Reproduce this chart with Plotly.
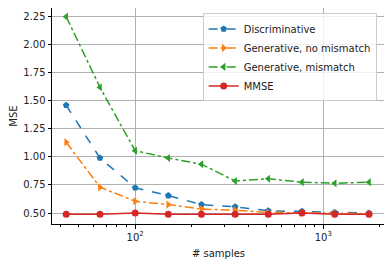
import plotly.graph_objects as go

samples = [43, 65, 100, 150, 225, 340, 510, 770, 1150, 1750]
discriminative = [1.46, 0.99, 0.725, 0.655, 0.575, 0.555, 0.52, 0.515, 0.505, 0.50]
gen_no_mismatch = [1.13, 0.73, 0.605, 0.575, 0.535, 0.525, 0.505, 0.50, 0.50, 0.495]
gen_mismatch = [2.25, 1.62, 1.055, 0.99, 0.935, 0.785, 0.805, 0.775, 0.765, 0.775]
mmse = [0.49, 0.49, 0.50, 0.49, 0.49, 0.49, 0.49, 0.50, 0.49, 0.49]

y_ticks = [0.50, 0.75, 1.00, 1.25, 1.50, 1.75, 2.00, 2.25]
x_ticks = [100, 1000]
x_ticktext = ["10<sup>2</sup>", "10<sup>3</sup>"]
minor_x = [40, 50, 60, 70, 80, 90, 200, 300, 400, 500, 600, 700, 800, 900, 2000]

series = [
    ("Discriminative", discriminative, "#1f77b4", "dash", "pentagon"),
    ("Generative, no mismatch", gen_no_mismatch, "#ff7f0e", "dashdot", "triangle-right"),
    ("Generative, mismatch", gen_mismatch, "#2ca02c", "dashdot", "triangle-left"),
    ("MMSE", mmse, "#d62728", "solid", "circle"),
]

fig = go.Figure()
for name, vals, color, dash, sym in series:
    fig.add_trace(go.Scatter(
        x=samples, y=vals, name=name, mode="lines+markers",
        line=dict(color=color, width=1.5, dash=dash),
        marker=dict(symbol=sym, size=7, color=color),
    ))

font = dict(family="DejaVu Sans", size=10, color="#222")
fig.update_layout(
    width=392, height=266,
    margin=dict(l=44, r=15, t=0, b=50),
    paper_bgcolor="white", plot_bgcolor="white",
    font=font,
    showlegend=True,
    legend=dict(
        x=0.975, y=0.975, xanchor="right", yanchor="top",
        bgcolor="rgba(255,255,255,0.8)", bordercolor="#cccccc", borderwidth=1,
        font=dict(family="DejaVu Sans", size=10, color="#222"),
        itemwidth=30, tracegroupgap=0,
    ),
)
fig.update_xaxes(
    type="log", range=[1.558, 3.328],
    tickvals=x_ticks, ticktext=x_ticktext,
    ticks="outside", ticklen=3.5, tickcolor="black",
    showgrid=True, gridcolor="#b0b0b0", gridwidth=1,
    showline=True, linecolor="black", linewidth=1, mirror=True,
    zeroline=False,
    minor=dict(tickvals=minor_x, ticks="outside", ticklen=2, tickcolor="black", showgrid=False),
    title=dict(text="# samples", font=font, standoff=8),
)
fig.update_yaxes(
    range=[0.402, 2.327],
    tickvals=y_ticks, tickformat=".2f",
    ticks="outside", ticklen=3.5, tickcolor="black",
    showgrid=True, gridcolor="#b0b0b0", gridwidth=1,
    showline=True, linecolor="black", linewidth=1, mirror=True,
    zeroline=False,
    title=dict(text="MSE", font=font, standoff=6),
)
fig.write_html("out.html")
